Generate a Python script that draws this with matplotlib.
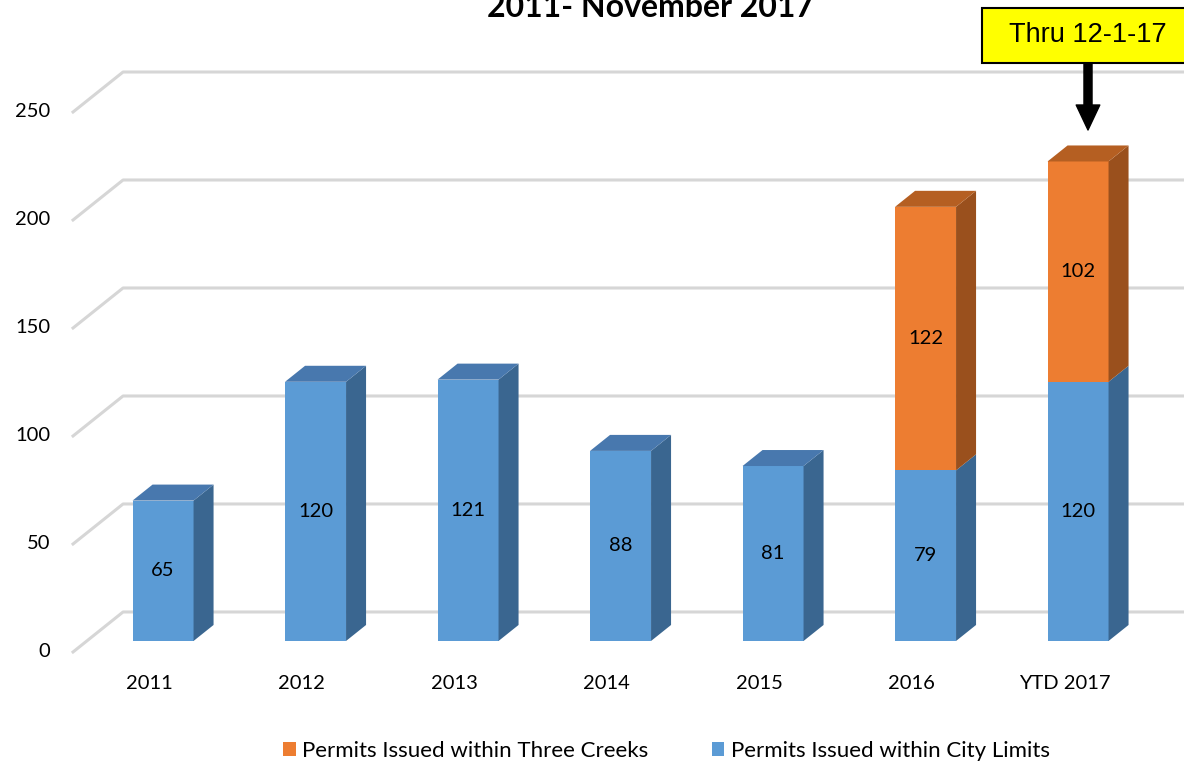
import numpy as np
import matplotlib.pyplot as plt
from matplotlib.patches import Polygon, Rectangle, Patch

plt.rcParams['font.family'] = ['Lato', 'DejaVu Sans']

# data
years = ['2011', '2012', '2013', '2014', '2015', '2016', 'YTD 2017']
city = [65, 120, 121, 88, 81, 79, 120]
creeks = [0, 0, 0, 0, 0, 122, 102]
yticks = [0, 50, 100, 150, 200, 250]

blue = ('#5B9BD5', '#3A6690', '#4878AE')     # front, side, top
orange = ('#ED7D31', '#9A501D', '#B55F22')

fig = plt.figure(figsize=(11.84, 7.63), dpi=100)
ax = fig.add_axes([0, 0, 1, 1])
ax.axis('off')
ax.set_xlim(-0.979, 6.785)
ax.set_ylim(-51.4, 301.85)

# fake 3d: z=0 floor front edge, z=1 back wall
kx, kv = 0.328, 18.52
zf, zb = 0.275, 0.675
bw = 0.4


def pr(x, v, z):
    return (x + z * kx, v + z * kv)


# walls / gridlines
for t in yticks:
    p0, p1, p2 = pr(-0.5, t, 0), pr(-0.5, t, 1), pr(7.2, t, 1)
    ax.plot([p0[0], p1[0], p2[0]], [p0[1], p1[1], p2[1]],
            color='#d6d6d6', lw=2.2, solid_joinstyle='round', zorder=1)
    ax.text(p0[0] - 0.15, p0[1], str(t), ha='right', va='center', fontsize=14.5)

# bars
for i in range(len(years)):
    segs = [(0, city[i], blue)]
    if creeks[i] > 0:
        segs.append((city[i], city[i] + creeks[i], orange))
    for k, (lo, hi, col) in enumerate(segs):
        l, r = i - bw / 2, i + bw / 2
        front = [pr(l, lo, zf), pr(r, lo, zf), pr(r, hi, zf), pr(l, hi, zf)]
        side = [pr(r, lo, zf), pr(r, lo, zb), pr(r, hi, zb), pr(r, hi, zf)]
        ax.add_patch(Polygon(front, closed=True, fc=col[0], ec='none', zorder=3))
        ax.add_patch(Polygon(side, closed=True, fc=col[1], ec='none', zorder=3))
        if k == len(segs) - 1:
            top = [pr(l, hi, zf), pr(r, hi, zf), pr(r, hi, zb), pr(l, hi, zb)]
            ax.add_patch(Polygon(top, closed=True, fc=col[2], ec='none', zorder=3))
        cx, cy = pr(i, (lo + hi) / 2, zf)
        ax.text(cx, cy, str(hi - lo), ha='center', va='center', fontsize=14.5, zorder=5)
    ax.text(i, -14.4, years[i], ha='center', va='center', fontsize=14.5)

# title (only lower line visible in the original crop)
fig.text(0.549, 1 - 17 / 763, '2011- November 2017', ha='center', va='baseline',
         fontsize=23, fontweight='bold')

# callout
fig.patches.append(Rectangle((982 / 1184, 1 - 63 / 763), 0.2, 55 / 763,
                             transform=fig.transFigure, fc='#FFFF00', ec='black', lw=1.5,
                             figure=fig))
fig.text(1088 / 1184, 1 - 35 / 763, 'Thru 12-1-17', ha='center', va='center',
         fontsize=19.5, family=['Liberation Sans Narrow', 'Liberation Sans'])
ax.annotate('', xy=(1088, 763 - 130), xytext=(1088, 763 - 63),
            xycoords='figure pixels', textcoords='figure pixels',
            arrowprops=dict(arrowstyle='simple,tail_width=0.58,head_width=1.7,head_length=1.8',
                            mutation_scale=10, fc='black', ec='black',
                            shrinkA=0, shrinkB=0))

# legend
handles = [Patch(fc=orange[0]), Patch(fc=blue[0])]
labels = ['Permits Issued within Three Creeks', 'Permits Issued within City Limits']
fig.legend(handles, labels, loc='center', bbox_to_anchor=(0.563, 12 / 763), ncol=2,
           frameon=False, fontsize=16, handlelength=0.55, handleheight=0.55,
           handletextpad=0.3, columnspacing=2.85)

fig.savefig('out.png', dpi=100)
